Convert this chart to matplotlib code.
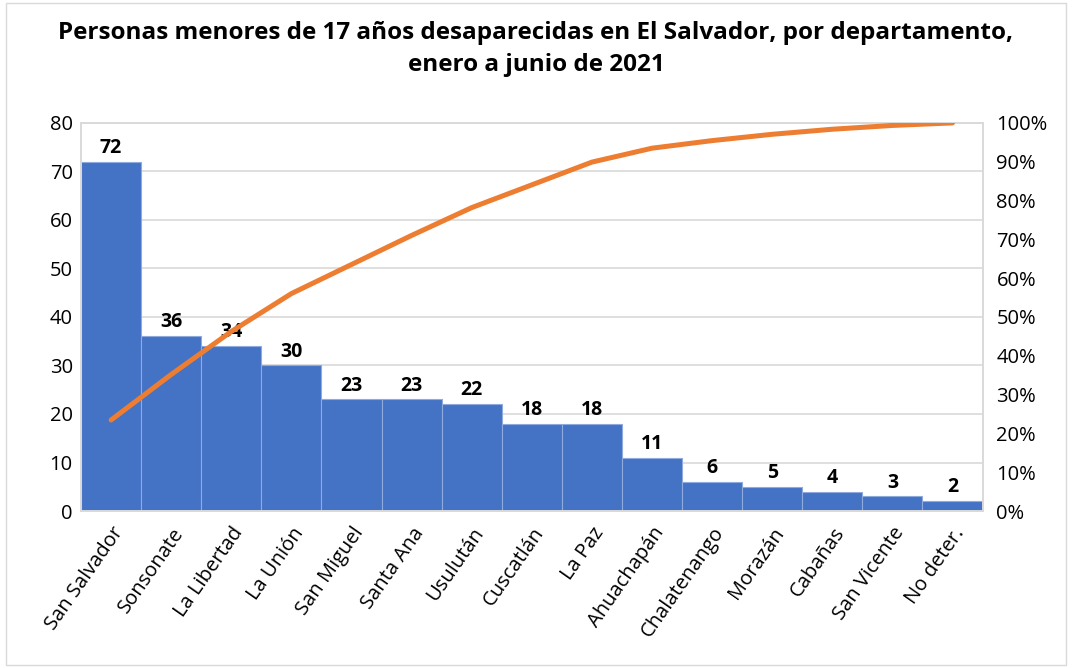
import matplotlib.pyplot as plt
import numpy as np

departamentos = ['San Salvador', 'Sonsonate', 'La Libertad', 'La Unión', 'San Miguel',
                 'Santa Ana', 'Usulután', 'Cuscatlán', 'La Paz', 'Ahuachapán',
                 'Chalatenango', 'Morazán', 'Cabañas', 'San Vicente', 'No deter.']
personas = [72, 36, 34, 30, 23, 23, 22, 18, 18, 11, 6, 5, 4, 3, 2]

plt.rcParams['font.family'] = ['Open Sans', 'DejaVu Sans']

acumulado = np.cumsum(personas) / sum(personas) * 100
x = np.arange(len(personas))

fig = plt.figure(figsize=(10.72, 6.68), dpi=100)
ax = fig.add_axes([0.0756, 0.235, 0.841, 0.581])
ax2 = ax.twinx()

ax.set_axisbelow(True)
ax.grid(axis='y', color='#d9d9d9', linewidth=1.2)
ax.bar(x, personas, width=1.0, color='#4472c4', edgecolor='#8faadc', linewidth=0.8, zorder=2)
for xi, v in zip(x, personas):
    ax.text(xi, v + 0.8, str(v), ha='center', va='bottom', fontsize=14, fontweight='bold')

ax.set_xlim(-0.5, len(personas) - 0.5)
ax.set_ylim(0, 80)
ax.set_yticks(range(0, 81, 10))
ax.set_xticks(x)
ax.set_xticklabels(departamentos, rotation=55, ha='right', rotation_mode='anchor', fontsize=14.5)
ax.tick_params(axis='y', length=0, labelsize=14.5, pad=6)
ax.tick_params(axis='x', length=0, pad=9)

ax2.plot(x, acumulado, color='#ed7d31', linewidth=3.6, solid_capstyle='round', zorder=3)
ax2.set_ylim(0, 100)
ax2.set_yticks(range(0, 101, 10))
ax2.set_yticklabels([f'{v}%' for v in range(0, 101, 10)])
ax2.tick_params(axis='y', length=0, labelsize=14.5, pad=10)

for a in (ax, ax2):
    for s in a.spines.values():
        s.set_color('#d9d9d9')
        s.set_linewidth(1.2)

fig.suptitle('Personas menores de 17 años desaparecidas en El Salvador, por departamento,\nenero a junio de 2021',
             fontsize=17.5, fontweight='bold', y=0.968, linespacing=1.45)

fig.patches.append(plt.Rectangle((0.006, 0.005), 0.988, 0.99, transform=fig.transFigure,
                                 fill=False, edgecolor='#d9d9d9', linewidth=1))

fig.savefig('out.png', dpi=100)
